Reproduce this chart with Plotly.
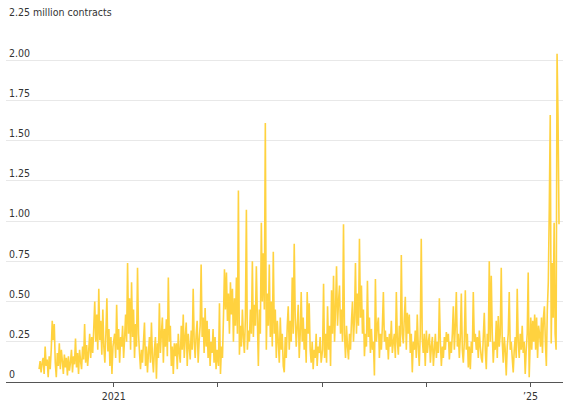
import pandas as pd
import plotly.graph_objects as go

# Daily futures volume, million contracts (grouped by year)
vol_2020 = [0.08,0.13,0.06,0.12,0.15,0.05,0.22,0.10,0.14,0.03,0.16,0.08,0.20,0.38,0.26,0.36,0.12,0.03,0.18,0.10,
            0.24,0.08,0.20,0.13,0.05,0.17,0.09,0.15,0.04,0.16,0.07,0.12,0.20,0.06,0.16,0.11,0.27,0.09,0.18,0.05,
            0.20,0.13,0.08,0.22,0.14,0.36,0.12,0.23,0.10,0.19,0.30,0.15,0.28,0.18,0.33,0.50,0.25,0.42,0.20,0.58,
            0.26,0.38,0.17,0.45,0.22,0.12,0.30,0.52,0.19,0.33,0.10,0.28,0.05,0.22]
vol_2021 = [0.30,0.15,0.48,0.20,0.33,0.12,0.28,0.22,0.35,0.15,0.27,0.42,0.25,0.74,0.30,0.52,0.20,0.62,0.28,0.45,
            0.15,0.36,0.22,0.71,0.30,0.18,0.08,0.20,0.12,0.25,0.37,0.10,0.22,0.06,0.18,0.28,0.12,0.37,0.15,0.06,
            0.20,0.28,0.02,0.24,0.15,0.49,0.18,0.30,0.40,0.12,0.33,0.22,0.39,0.16,0.65,0.25,0.35,0.10,0.22,0.05,
            0.24,0.16,0.24,0.08,0.30,0.18,0.12,0.35,0.20,0.42,0.15,0.28,0.37,0.10,0.30,0.22,0.14,0.32,0.20,0.58,
            0.25,0.15,0.30,0.38,0.12,0.26,0.35,0.73,0.28,0.40,0.18,0.46,0.22,0.38,0.15,0.33,0.10,0.25,0.18,0.33,
            0.12,0.28,0.08,0.20]
vol_2022 = [0.10,0.49,0.05,0.22,0.15,0.40,0.70,0.45,0.68,0.38,0.55,0.30,0.62,0.42,0.58,0.25,0.52,0.35,0.65,0.30,
            1.19,0.17,0.35,0.22,0.45,0.28,0.18,0.40,1.07,0.20,0.32,0.25,0.45,0.30,0.75,0.28,0.48,0.35,0.72,0.40,
            0.10,0.45,0.30,0.99,0.50,0.80,0.45,1.61,0.20,0.55,0.35,0.73,0.28,0.50,0.22,0.81,0.30,0.45,0.15,0.38,
            0.25,0.12,0.40,0.20,0.30,0.10,0.06,0.28,0.15,0.35,0.47,0.20,0.38,0.25,0.65,0.30,0.86,0.40,0.22,0.35,
            0.48,0.15,0.30,0.56,0.25,0.40,0.20,0.33,0.12,0.56,0.30,0.49,0.20,0.12,0.25,0.08,0.20,0.15,0.30,0.10,
            0.22,0.18,0.28,0.12]
vol_2023 = [0.20,0.61,0.15,0.30,0.12,0.47,0.20,0.35,0.10,0.57,0.30,0.66,0.25,0.45,0.72,0.35,0.50,0.60,0.30,0.45,
            0.25,0.98,0.30,0.15,0.35,0.22,0.14,0.30,0.20,0.38,0.50,0.25,0.40,0.74,0.30,0.55,0.35,0.89,0.40,0.60,
            0.30,0.45,0.16,0.30,0.22,0.63,0.28,0.40,0.18,0.33,0.20,0.25,0.04,0.64,0.25,0.35,0.40,0.15,0.30,0.20,
            0.35,0.56,0.25,0.32,0.20,0.28,0.14,0.30,0.22,0.38,0.18,0.25,0.30,0.15,0.56,0.25,0.17,0.35,0.22,0.79,
            0.30,0.24,0.40,0.53,0.20,0.43,0.30,0.42,0.18,0.30,0.06,0.25,0.20,0.32,0.15,0.42,0.22,0.10,0.30,0.89,
            0.27,0.18,0.30,0.10]
vol_2024 = [0.32,0.18,0.25,0.30,0.12,0.22,0.28,0.10,0.20,0.30,0.15,0.25,0.18,0.52,0.25,0.10,0.22,0.15,0.28,0.20,
            0.31,0.25,0.30,0.14,0.25,0.18,0.30,0.47,0.20,0.35,0.56,0.22,0.30,0.15,0.28,0.55,0.20,0.12,0.25,0.57,
            0.20,0.30,0.09,0.22,0.08,0.25,0.18,0.56,0.25,0.30,0.20,0.28,0.15,0.32,0.22,0.15,0.12,0.28,0.43,0.20,
            0.08,0.30,0.22,0.75,0.25,0.66,0.30,0.12,0.25,0.20,0.38,0.15,0.41,0.22,0.30,0.71,0.25,0.12,0.28,0.20,
            0.04,0.22,0.30,0.56,0.20,0.25,0.15,0.06,0.20,0.28,0.15,0.58,0.25,0.15,0.30,0.20,0.35,0.18,0.25,0.05,
            0.20,0.30,0.68,0.03,0.25]
vol_2025 = [0.40,0.20,0.38,0.25,0.42,0.20,0.40,0.15,0.35,0.30,0.22,0.40,0.18,0.40,0.47,0.25,0.10,0.45,0.62,1.07,
            1.66,0.24,0.74,0.40,0.99,0.30,0.20,2.04,1.64,0.98]

year_spans = [
    ("2020-04-14", "2020-12-29", vol_2020),
    ("2021-01-04", "2021-12-29", vol_2021),
    ("2022-01-03", "2022-12-29", vol_2022),
    ("2023-01-03", "2023-12-29", vol_2023),
    ("2024-01-02", "2024-12-31", vol_2024),
    ("2025-01-02", "2025-04-11", vol_2025),
]

dates = []
values = []
for start, end, vals in year_spans:
    dates.extend(pd.date_range(start, end, periods=len(vals)))
    values.extend(vals)

y_ticks = [0, 0.25, 0.5, 0.75, 1.0, 1.25, 1.5, 1.75, 2.0, 2.25]
y_labels = ["0", "0.25", "0.50", "0.75", "1.00", "1.25", "1.50", "1.75", "2.00", "2.25 million contracts"]
x_ticks = ["2021-01-01", "2022-01-01", "2023-01-01", "2024-01-01", "2025-01-01"]
x_labels = ["2021", "", "", "", "\u201925"]

FONT = "Liberation Sans Narrow, DejaVu Sans Condensed, Roboto Condensed, Liberation Sans, sans-serif"

fig = go.Figure(
    go.Scatter(
        x=dates, y=values, mode="lines",
        line=dict(color="#FFD23F", width=1.6, simplify=False),
        hoverinfo="skip",
    )
)

fig.update_layout(
    width=572, height=407,
    margin=dict(l=6, r=9, t=20, b=25),
    paper_bgcolor="white", plot_bgcolor="white",
    showlegend=False,
    font=dict(family=FONT, size=10.5, color="#333333"),
)

fig.update_yaxes(
    range=[0, 2.25],
    tickvals=y_ticks, ticktext=y_labels,
    ticklabelposition="inside top",
    ticklabeloverflow="allow",
    showgrid=True, gridcolor="#E8E8E8", gridwidth=1,
    zeroline=False, showline=False, ticks="",
    tickfont=dict(family=FONT, size=10.5, color="#333333"),
)

fig.update_xaxes(
    type="date",
    range=["2019-12-20", "2025-04-25"],
    tickvals=x_ticks, ticktext=x_labels,
    ticks="outside", ticklen=4, tickcolor="#555555", tickwidth=1,
    showline=True, linecolor="#555555", linewidth=1,
    showgrid=False, zeroline=False,
    tickfont=dict(family=FONT, size=10.5, color="#333333"),
)

fig.write_html(
    "out.html",
    config={"displayModeBar": False},
    post_script="document.body.style.margin='0';document.body.style.overflow='hidden';",
)
